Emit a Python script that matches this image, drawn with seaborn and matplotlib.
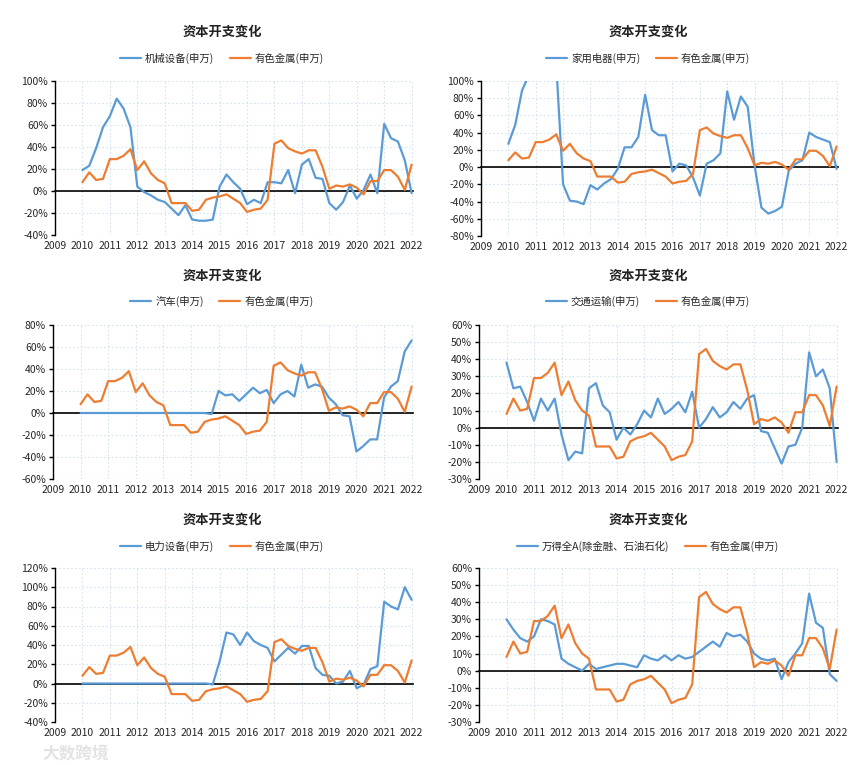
import numpy as np
import pandas as pd
import seaborn as sns
import matplotlib.pyplot as plt
from matplotlib.ticker import PercentFormatter

# 季度数据 2010Q1 - 2022Q1 (单位: %)
quarters = np.arange(2010, 2022.01, 0.25)
years = list(range(2009, 2023))

youse = [8, 17, 10, 11, 29, 29, 32, 38, 19, 27, 16, 10, 7, -11, -11, -11,
         -18, -17, -8, -6, -5, -3, -7, -11, -19, -17, -16, -8, 43, 46, 39, 36,
         34, 37, 37, 22, 2, 5, 4, 6, 3, -3, 9, 9, 19, 19, 13, 1, 24]

jixie = [19, 23, 39, 58, 68, 84, 75, 58, 4, -1, -4, -8, -10, -16, -22, -13,
         -26, -27, -27, -26, 4, 15, 8, 2, -12, -8, -11, 8, 8, 7, 19, -2,
         24, 29, 12, 11, -11, -17, -10, 5, -7, 1, 15, -2, 61, 48, 45, 28, -2]

jiadian = [27, 49, 89, 107, 130, 140, 140, 120, -20, -39, -40, -43, -21, -26, -19, -14,
           -2, 23, 23, 35, 84, 43, 37, 37, -5, 4, 2, -12, -33, 4, 8, 16,
           88, 55, 82, 70, 2, -47, -54, -51, -46, -4, 4, 8, 40, 35, 32, 29, -2]

qiche = [0, 0, 0, 0, 0, 0, 0, 0, 0, 0, 0, 0, 0, 0, 0, 0,
         0, 0, 0, -1, 20, 16, 17, 11, 17, 23, 18, 21, 9, 17, 20, 15,
         44, 23, 26, 24, 14, 8, -2, -3, -35, -30, -24, -24, 14, 24, 29, 56, 66]

jiaotong = [38, 23, 24, 15, 4, 17, 10, 17, -4, -19, -14, -15, 23, 26, 13, 9,
            -7, 0, -4, 2, 10, 6, 17, 8, 11, 15, 9, 21, 0, 5, 12, 6,
            9, 15, 11, 17, 19, -2, -3, -12, -21, -11, -10, 0, 44, 30, 34, 23, -20]

dianli = [0, 0, 0, 0, 0, 0, 0, 0, 0, 0, 0, 0, 0, 0, 0, 0,
          0, 0, 0, -1, 23, 53, 51, 40, 53, 44, 40, 37, 23, 30, 37, 31,
          39, 39, 16, 9, 8, 0, 2, 13, -5, -1, 15, 18, 85, 80, 77, 100, 87]

wande = [30, 24, 19, 17, 20, 30, 29, 27, 7, 4, 2, 0, 4, 1, 2, 3,
         4, 4, 3, 2, 9, 7, 6, 9, 6, 9, 7, 8, 11, 14, 17, 14,
         22, 20, 21, 17, 10, 7, 6, 7, -5, 5, 10, 16, 45, 28, 25, -2, -6]

panels = [
    ('机械设备(申万)', jixie, (-40, 100, 20)),
    ('家用电器(申万)', jiadian, (-80, 100, 20)),
    ('汽车(申万)', qiche, (-60, 80, 20)),
    ('交通运输(申万)', jiaotong, (-30, 60, 10)),
    ('电力设备(申万)', dianli, (-40, 120, 20)),
    ('万得全A(除金融、石油石化)', wande, (-30, 60, 10)),
]

sns.set_style('white')
plt.rcParams['font.family'] = ['Noto Sans CJK SC', 'DejaVu Sans']
plt.rcParams['axes.unicode_minus'] = False

fig = plt.figure(figsize=(8.65, 7.65), dpi=100)
W, H = 865, 765

# 像素位置: left, right, top, bottom
boxes = [(55, 413, 81, 235), (481, 838, 81, 236),
         (53, 413, 325, 479), (479, 838, 325, 479),
         (55, 413, 568, 722), (479, 838, 568, 722)]
title_y = [32, 32, 276, 276, 520, 520]
legend_y = [58, 58, 301, 301, 546, 546]
centers = [222, 648]

for i, (name, vals, (ymin, ymax, step)) in enumerate(panels):
    l, r, t, b = boxes[i]
    ax = fig.add_axes([l / W, 1 - b / H, (r - l) / W, (b - t) / H])
    df = pd.DataFrame({
        'x': np.concatenate([quarters, quarters]),
        'y': vals + youse,
        's': [name] * len(vals) + ['有色金属(申万)'] * len(youse),
    })
    sns.lineplot(data=df, x='x', y='y', hue='s', ax=ax,
                 palette=['#5B9BD5', '#ED7D31'], linewidth=1.6, zorder=3)
    ax.set_xlim(2009, 2022.05)
    ax.set_ylim(ymin, ymax)
    ax.set_yticks(np.arange(ymin, ymax + 1, step))
    ax.yaxis.set_major_formatter(PercentFormatter(decimals=0))
    ax.set_xticks(years)
    ax.set_xlabel('')
    ax.set_ylabel('')
    ax.grid(True, color='#D4E3F1', linestyle=(0, (1.5, 2)), linewidth=0.8)
    for s in ['top', 'right']:
        ax.spines[s].set_visible(False)
    ax.spines['left'].set_color('black')
    ax.spines['left'].set_linewidth(1.0)
    ax.spines['bottom'].set_position(('data', 0))
    ax.spines['bottom'].set_color('black')
    ax.spines['bottom'].set_linewidth(1.2)
    ax.tick_params(axis='x', labelbottom=False, direction='out', length=4,
                   width=1, color='black')
    ax.tick_params(axis='y', direction='out', length=3, width=1,
                   color='black', labelsize=7.5, pad=2, left=True)
    sec = ax.secondary_xaxis('bottom')
    sec.set_xticks(years)
    sec.spines['bottom'].set_visible(False)
    sec.tick_params(length=0, labelsize=7.5, pad=4)

    cx = centers[i % 2]
    fig.text(cx / W, 1 - title_y[i] / H, '资本开支变化', ha='center',
             va='center', fontsize=9.5, fontweight='bold', color='#222222')
    ax.legend(loc='center', bbox_to_anchor=(cx / W, 1 - legend_y[i] / H),
              bbox_transform=fig.transFigure, ncol=2, frameon=False,
              fontsize=7.5, handlelength=2.0, handletextpad=0.4,
              columnspacing=1.5, title=None)

# 水印
fig.text(42 / W, 1 - 753 / H, '大数跨境', fontsize=12, fontweight='bold',
         color='#dddddd', va='center', alpha=0.8)

fig.savefig('out.png', dpi=100)
